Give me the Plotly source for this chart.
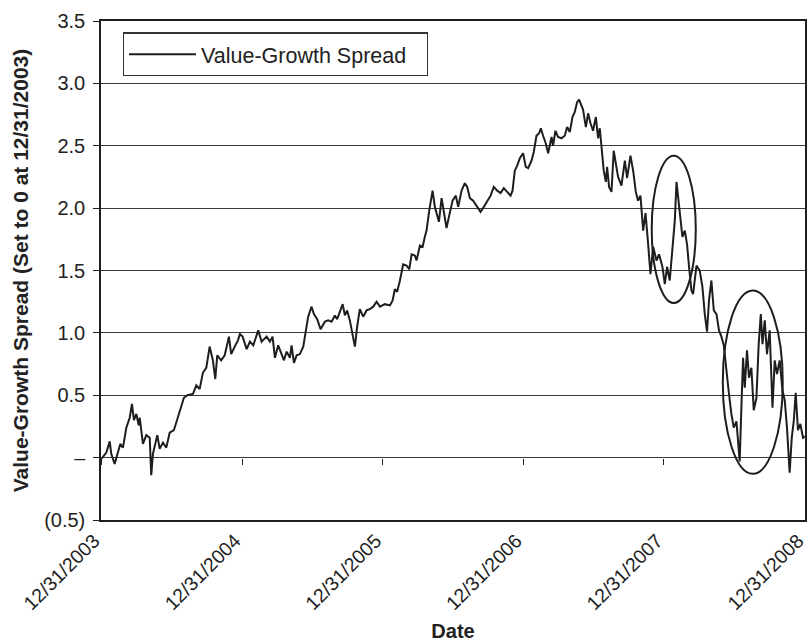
import numpy as np
import pandas as pd
import plotly.graph_objects as go

# Value-growth spread (x = years after 12/31/2003)
years = [
    0.002, 0.021, 0.038, 0.062, 0.073, 0.097, 0.121, 0.137, 0.156, 0.180,
    0.204, 0.220, 0.234, 0.251, 0.268, 0.275, 0.298, 0.322, 0.346, 0.357,
    0.369, 0.400, 0.417, 0.440, 0.464, 0.488, 0.518, 0.542, 0.566, 0.589,
    0.613, 0.653, 0.677, 0.701, 0.724, 0.748, 0.772, 0.795, 0.812, 0.826,
    0.854, 0.879, 0.909, 0.925, 0.950, 0.973, 0.987, 1.006, 1.035, 1.058,
    1.082, 1.117, 1.141, 1.177, 1.200, 1.219, 1.236, 1.259, 1.283, 1.300,
    1.319, 1.342, 1.354, 1.371, 1.390, 1.413, 1.437, 1.456, 1.472, 1.496,
    1.513, 1.536, 1.560, 1.591, 1.614, 1.638, 1.662, 1.678, 1.697, 1.717,
    1.733, 1.749, 1.768, 1.788, 1.804, 1.820, 1.839, 1.863, 1.887, 1.910,
    1.934, 1.958, 1.982, 2.017, 2.053, 2.072, 2.088, 2.104, 2.124, 2.147,
    2.171, 2.190, 2.207, 2.230, 2.242, 2.266, 2.285, 2.301, 2.313, 2.332,
    2.356, 2.372, 2.384, 2.401, 2.420, 2.436, 2.455, 2.474, 2.498, 2.521,
    2.538, 2.562, 2.585, 2.602, 2.621, 2.644, 2.673, 2.697, 2.720, 2.744,
    2.768, 2.791, 2.815, 2.839, 2.862, 2.886, 2.910, 2.924, 2.940, 2.957,
    2.976, 2.999, 3.018, 3.035, 3.059, 3.075, 3.094, 3.113, 3.125, 3.141,
    3.160, 3.177, 3.201, 3.212, 3.229, 3.248, 3.272, 3.295, 3.312, 3.331,
    3.350, 3.366, 3.383, 3.397, 3.414, 3.425, 3.445, 3.461, 3.478, 3.496,
    3.516, 3.532, 3.544, 3.556, 3.572, 3.587, 3.596, 3.610, 3.627, 3.643,
    3.663, 3.674, 3.698, 3.722, 3.738, 3.762, 3.781, 3.800, 3.816, 3.833,
    3.852, 3.869, 3.887, 3.904, 3.923, 3.947, 3.965, 3.989, 4.006, 4.022,
    4.041, 4.058, 4.077, 4.089, 4.103, 4.117, 4.131, 4.148, 4.164, 4.178,
    4.195, 4.207, 4.231, 4.254, 4.273, 4.290, 4.306, 4.320, 4.337, 4.354,
    4.373, 4.391, 4.408, 4.425, 4.444, 4.462, 4.479, 4.496, 4.515, 4.529,
    4.538, 4.550, 4.562, 4.574, 4.590, 4.604, 4.621, 4.638, 4.657, 4.673,
    4.688, 4.700, 4.716, 4.732, 4.751, 4.771, 4.787, 4.803, 4.822, 4.842,
    4.858, 4.874, 4.893, 4.908, 4.922, 4.936, 4.952, 4.969, 4.988, 5.000,
]
spread = [
    -0.01, 0.02, 0.04, 0.13, 0.03, -0.05, 0.04, 0.11, 0.08, 0.24,
    0.32, 0.43, 0.30, 0.35, 0.26, 0.32, 0.11, 0.18, 0.16, -0.14,
    0.03, 0.18, 0.07, 0.12, 0.08, 0.20, 0.22, 0.31, 0.40, 0.48,
    0.50, 0.51, 0.58, 0.55, 0.68, 0.72, 0.89, 0.78, 0.63, 0.82,
    0.78, 0.82, 0.97, 0.83, 0.89, 0.94, 0.99, 0.97, 0.87, 0.93,
    0.90, 1.02, 0.93, 0.97, 0.93, 0.97, 0.80, 0.90, 0.83, 0.78,
    0.85, 0.80, 0.90, 0.76, 0.82, 0.83, 0.89, 1.02, 1.13, 1.21,
    1.15, 1.11, 1.03, 1.09, 1.10, 1.09, 1.14, 1.11, 1.17, 1.23,
    1.14, 1.18, 1.10, 0.97, 0.89, 1.05, 1.19, 1.13, 1.18, 1.19,
    1.21, 1.25, 1.21, 1.23, 1.22, 1.26, 1.35, 1.33, 1.42, 1.55,
    1.54, 1.51, 1.63, 1.62, 1.58, 1.70, 1.69, 1.77, 1.82, 1.98,
    2.14, 2.01, 1.96, 1.89, 2.08, 1.98, 1.84, 1.94, 2.06, 2.10,
    2.01, 2.14, 2.20, 2.17, 2.08, 2.06, 2.01, 1.97, 2.01, 2.06,
    2.10, 2.17, 2.14, 2.12, 2.16, 2.13, 2.10, 2.14, 2.30, 2.34,
    2.40, 2.44, 2.33, 2.32, 2.38, 2.45, 2.58, 2.60, 2.64, 2.58,
    2.52, 2.44, 2.57, 2.50, 2.62, 2.57, 2.56, 2.58, 2.65, 2.61,
    2.73, 2.77, 2.85, 2.87, 2.81, 2.79, 2.65, 2.76, 2.68, 2.62,
    2.73, 2.56, 2.64, 2.49, 2.30, 2.21, 2.33, 2.17, 2.13, 2.46,
    2.30, 2.25, 2.18, 2.38, 2.24, 2.42, 2.30, 2.13, 2.06, 2.10,
    1.82, 1.96, 1.72, 1.47, 1.69, 1.58, 1.63, 1.53, 1.39, 1.53,
    1.42, 1.63, 1.90, 2.21, 2.06, 1.90, 1.77, 1.82, 1.71, 1.53,
    1.34, 1.31, 1.54, 1.50, 1.37, 1.15, 1.01, 1.26, 1.42, 1.18,
    1.15, 1.02, 0.97, 0.90, 0.67, 0.51, 0.35, 0.24, 0.29, 0.13,
    -0.03, 0.40, 0.80, 0.56, 0.86, 0.64, 0.72, 0.38, 0.48, 0.91,
    1.15, 0.91, 1.10, 0.83, 1.02, 0.40, 0.78, 0.67, 0.78, 0.54,
    0.46, 0.24, -0.12, 0.16, 0.29, 0.52, 0.22, 0.27, 0.16, 0.17,
]

# highlighted periods (ellipses): years after start, and spread bounds
ellipse_x0 = [3.913, 4.418]
ellipse_x1 = [4.226, 4.844]
ellipse_y0 = [1.24, -0.13]
ellipse_y1 = [2.42, 1.34]

tick_dates = ['2003-12-31', '2004-12-31', '2005-12-31', '2006-12-31', '2007-12-31', '2008-12-31']
tick_labels = ['12/31/2003', '12/31/2004', '12/31/2005', '12/31/2006', '12/31/2007', '12/31/2008']
y_ticks = [-0.5, 0, 0.5, 1.0, 1.5, 2.0, 2.5, 3.0, 3.5]
y_labels = ['(0.5)', '–', '0.5', '1.0', '1.5', '2.0', '2.5', '3.0', '3.5']

start = pd.Timestamp('2003-12-31')


def to_dates(yrs):
    return start + pd.to_timedelta(np.asarray(yrs) * 365.25, unit='D')


dates = to_dates(years)
ink = '#1e1e1e'
font = 'Liberation Sans, Arial, sans-serif'

fig = go.Figure()
fig.add_trace(go.Scatter(x=dates, y=spread, mode='lines', name='Value-Growth Spread',
                         line=dict(color=ink, width=2)))
# invisible copy on the second x axis, which only carries the tick marks at zero
fig.add_trace(go.Scatter(x=dates, y=spread, mode='lines', xaxis='x2', showlegend=False,
                         hoverinfo='skip', line=dict(color='rgba(0,0,0,0)', width=0)))

for a, b, c, d in zip(to_dates(ellipse_x0), to_dates(ellipse_x1), ellipse_y0, ellipse_y1):
    fig.add_shape(type='circle', xref='x', yref='y', x0=a, x1=b, y0=c, y1=d,
                  line=dict(color=ink, width=2))

x_range = [tick_dates[0], tick_dates[-1]]
fig.update_layout(
    width=807, height=644,
    margin=dict(l=101, r=2, t=21, b=124),
    paper_bgcolor='white', plot_bgcolor='white',
    font=dict(family=font, size=20, color='#222'),
    showlegend=True,
    legend=dict(x=0.031, y=0.977, xanchor='left', yanchor='top', orientation='h',
                bordercolor='#333', borderwidth=1.2, bgcolor='white',
                font=dict(size=21.5, color='#222'), itemwidth=67, entrywidth=220),
    xaxis=dict(range=x_range, tickvals=tick_dates, ticktext=tick_labels, tickangle=-45,
               ticks='', showgrid=False, zeroline=False, ticklabeloverflow='allow',
               automargin=False, ticklabelshift=-7, tickfont=dict(size=19.5),
               showline=True, linecolor=ink, linewidth=1.5, mirror=True,
               title=dict(text='<b>Date</b>', font=dict(size=20), standoff=11)),
    xaxis2=dict(range=x_range, overlaying='x', anchor='free', position=0.125,
                tickvals=tick_dates, showticklabels=False, ticks='outside',
                ticklen=6, tickwidth=1.2, tickcolor=ink, automargin=False,
                showgrid=False, zeroline=False, showline=False),
    yaxis=dict(range=[-0.5, 3.5], tickvals=y_ticks, ticktext=y_labels,
               ticks='outside', ticklen=6, tickcolor=ink, tickwidth=1.2,
               ticklabelstandoff=4, automargin=False,
               showgrid=True, gridcolor='#3a3a3a', gridwidth=1.4, zeroline=False,
               showline=True, linecolor=ink, linewidth=1.5, mirror=True,
               title=dict(text='<b>Value-Growth Spread (Set to 0 at 12/31/2003)</b>',
                          font=dict(size=21), standoff=10)),
)

# drop the browser's default body margin so the figure fills the window exactly
fig.write_html('out.html', config={'displayModeBar': False},
               post_script="document.body.style.margin = '0';")
